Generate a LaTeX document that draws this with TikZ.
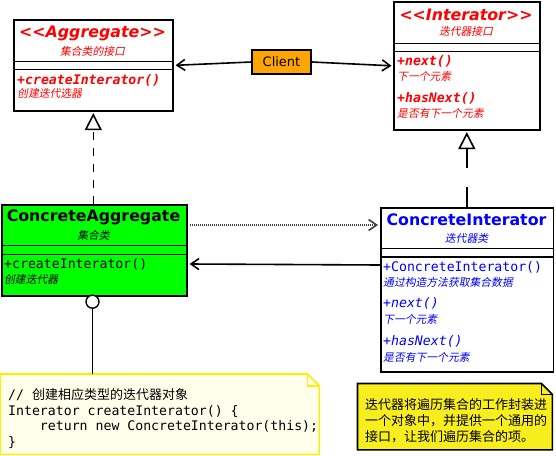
\documentclass[tikz,border=0pt]{standalone}
\usepackage{fontspec}
\setmainfont{DejaVu Sans}
\setmonofont{DejaVu Sans Mono}
\newfontfamily\cjk{Noto Sans CJK SC}[AutoFakeSlant=0.2]
\usetikzlibrary{arrows.meta}
\newcommand\dlt{<\kern0pt<}
\newcommand\dgt{>\kern0pt>}
\definecolor{myred}{RGB}{255,0,0}
\definecolor{myblue}{RGB}{0,0,255}
\definecolor{mygreen}{RGB}{0,255,0}
\definecolor{myorange}{RGB}{255,165,0}
\definecolor{noteyellow}{RGB}{248,238,30}
\definecolor{paleyellow}{RGB}{255,255,236}
\definecolor{lineyellow}{RGB}{255,238,0}
\tikzset{
  cls/.style={draw, line width=1.6pt, anchor=north west, inner sep=0pt},
  sepline/.style={line width=1.6pt},
  ttl/.style={font=\fontsize{15.8}{18}\selectfont\bfseries, inner sep=0pt},
  sub/.style={font=\fontsize{10.8}{13}\selectfont\cjk\itshape, inner sep=0pt},
  mth/.style={font=\fontsize{13.2}{15}\selectfont\ttfamily, inner sep=0pt, anchor=west},
  cmt/.style={font=\fontsize{10.8}{13}\selectfont\cjk\itshape, inner sep=0pt, anchor=west},
  conn/.style={line width=1.6pt},
  barb/.style={-{Straight Barb[length=8pt,width=11pt]}},
  inherit/.style={-{Triangle[open,length=17pt,width=17pt,fill=white]}},
}
\begin{document}
\begin{tikzpicture}[x=1pt,y=-1pt]
\useasboundingbox (0,0) rectangle (556,455);

% ---- Aggregate
\node[cls, fill=white, minimum width=159pt, minimum height=91pt] (agg) at (13,19) {};
\draw[sepline] (13,61.5) -- (172,61.5);
\draw[sepline] (13,69.5) -- (172,69.5);
\node[ttl, text=myred, font=\fontsize{15.8}{18}\selectfont\bfseries\itshape] (aggT) at (92.5,33) {\dlt Aggregate\dgt};
\node[sub, text=myred] (aggS) at (92.5,51) {集合类的接口};
\node[mth, text=myred, font=\fontsize{13.2}{15}\selectfont\ttfamily\bfseries\itshape] (aggM) at (17,80) {+createInterator()};
\node[cmt, text=myred] (aggC) at (17,93.5) {创建迭代选器};

% ---- Interator
\node[cls, fill=white, minimum width=146pt, minimum height=128pt] (int) at (393,1) {};
\draw[sepline] (393,43.5) -- (539,43.5);
\draw[sepline] (393,51.5) -- (539,51.5);
\node[ttl, text=myred, font=\fontsize{15.8}{18}\selectfont\bfseries\itshape] (intT) at (466,15) {\dlt Interator\dgt};
\node[sub, text=myred] (intS) at (466,31.5) {迭代器接口};
\node[mth, text=myred, font=\fontsize{13.2}{15}\selectfont\ttfamily\bfseries\itshape] (intM1) at (397,61) {+next()};
\node[cmt, text=myred] (intC1) at (397,76) {下一个元素};
\node[mth, text=myred, font=\fontsize{13.2}{15}\selectfont\ttfamily\bfseries\itshape] (intM2) at (397,98) {+hasNext()};
\node[cmt, text=myred] (intC2) at (397,113) {是否有下一个元素};

% ---- Client
\node[draw, line width=1.6pt, fill=myorange, minimum width=59pt, minimum height=24pt, inner sep=0pt,
      font=\fontsize{13}{15}\selectfont] (client) at (281.5,62) {Client};

% ---- ConcreteAggregate
\node[cls, fill=mygreen, minimum width=185pt, minimum height=91pt] (ca) at (1,204) {};
\draw[sepline] (1,245.5) -- (186,245.5);
\draw[sepline] (1,254.5) -- (186,254.5);
\node[ttl] (caT) at (93.5,217) {ConcreteAggregate};
\node[sub] (caS) at (93.5,235.5) {集合类};
\node[mth] (caM) at (4,264) {+createInterator()};
\node[cmt] (caC) at (4,279) {创建迭代器};

% ---- ConcreteInterator
\node[cls, fill=white, minimum width=172.5pt, minimum height=164pt] (ci) at (380,207) {};
\draw[sepline] (380,248.5) -- (552.5,248.5);
\draw[sepline] (380,257) -- (552.5,257);
\node[ttl, text=myblue] (ciT) at (466.5,220) {ConcreteInterator};
\node[sub, text=myblue] (ciS) at (466.5,238) {迭代器类};
\node[mth, text=myblue] (ciM0) at (383,267) {+ConcreteInterator()};
\node[cmt, text=myblue] (ciC0) at (383,282) {通过构造方法获取集合数据};
\node[mth, text=myblue, font=\fontsize{13.2}{15}\selectfont\ttfamily\itshape] (ciM1) at (383,303) {+next()};
\node[cmt, text=myblue] (ciC1) at (383,319) {下一个元素};
\node[mth, text=myblue, font=\fontsize{13.2}{15}\selectfont\ttfamily\itshape] (ciM2) at (383,341) {+hasNext()};
\node[cmt, text=myblue] (ciC2) at (383,357) {是否有下一个元素};

% ---- code note
\node[anchor=north west, minimum width=319pt, minimum height=80pt, inner sep=0pt] (note1) at (0,374) {};
\draw[line width=1.6pt, draw=lineyellow, fill=paleyellow]
  (note1.north west) -- ([xshift=-12pt]note1.north east) -- ([yshift=-12pt]note1.north east)
  -- (note1.south east) -- (note1.south west) -- cycle;
\draw[line width=1.2pt, draw=lineyellow]
  ([xshift=-12pt]note1.north east) -- ([xshift=-12pt,yshift=-12pt]note1.north east) -- ([yshift=-12pt]note1.north east);
\node[mth, font=\fontsize{13.2}{15.7}\selectfont\ttfamily, align=left] (code) at (8,418.5)
  {// {\cjk\fontsize{13}{15.7}\selectfont 创建相应类型的迭代器对象}\\
   Interator createInterator() \{\\
   \phantom{xxxx}return new ConcreteInterator(this);\\
   \}};

% ---- yellow note
\node[anchor=north west, minimum width=194.5pt, minimum height=66pt, inner sep=0pt] (note2) at (357.5,383.5) {};
\draw[line width=1.6pt, fill=noteyellow]
  (note2.north west) -- ([xshift=-11pt]note2.north east) -- ([yshift=-11pt]note2.north east)
  -- (note2.south east) -- (note2.south west) -- cycle;
\draw[line width=1.2pt]
  ([xshift=-11pt]note2.north east) -- ([xshift=-11pt,yshift=-11pt]note2.north east) -- ([yshift=-11pt]note2.north east);
\node[anchor=west, inner sep=0pt, align=left, font=\cjk\fontsize{13}{15.8}\selectfont] (note2T) at (365,421)
  {迭代器将遍历集合的工作封装进\\一个对象中，并提供一个通用的\\接口，让我们遍历集合的项。};

% ---- connectors
\draw[conn, barb] (client.west) -- ([xshift=2pt]agg.east);
\draw[conn, barb] (client.east) -- ([xshift=-1.5pt]int.west);
\draw[conn, inherit, dash pattern=on 8pt off 8pt] (agg.south |- ca.north) -- ([yshift=-1.5pt]agg.south);
\draw[conn, inherit, dash pattern=on 20pt off 19pt] (int.south |- ci.north) -- ([yshift=-1.5pt]int.south);
\draw[conn, barb, draw=black!75, dash pattern=on 1pt off 1pt] ([shift={(2,21)}]ca.north east) -- ([shift={(-2,18)}]ci.north west);
\draw[conn, barb] ([shift={(0,58)}]ci.north west) -- ([shift={(2,60)}]ca.north east);
\node[circle, draw, line width=1.4pt, fill=white, minimum size=13pt, inner sep=0pt] (dot) at (92.5,301.7) {};
\draw[conn] (dot.south) -- (dot.south |- note1.north);
\end{tikzpicture}
\end{document}
